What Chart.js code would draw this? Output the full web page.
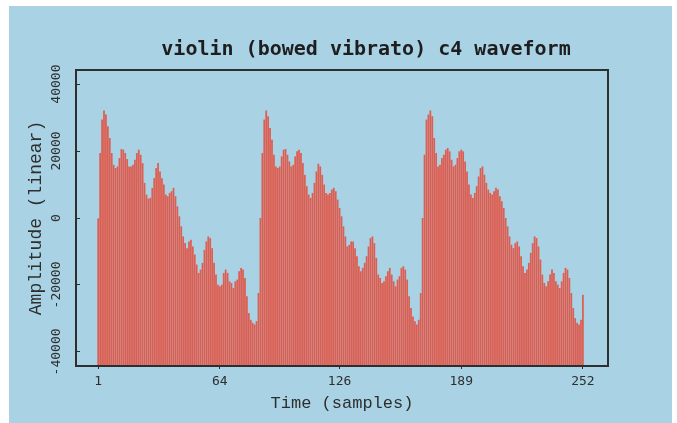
<!DOCTYPE html>
<html>
<head>
<meta charset="utf-8">
<title>violin (bowed vibrato) c4 waveform</title>
<script src="https://cdn.jsdelivr.net/npm/chart.js@4.4.1/dist/chart.umd.min.js"></script>
<style>
  html, body { margin: 0; padding: 0; background: #fff; }
  canvas { display: block; }
</style>
</head>
<body>
<canvas id="chart-waveform" width="677" height="423"></canvas>
<script>
// one pitch period per array, 84 samples each
var cycle1 = [
  -200, 19300, 29300, 32000, 30800, 27300, 23800, 19300, 15800, 14800,
  15300, 17800, 20500, 20300, 19300, 17500, 15300, 15300, 15800, 17300,
  19300, 20300, 18800, 16300, 10400, 6900, 5700, 5900, 8900, 11800,
  14800, 16300, 13800, 11800, 9900, 6900, 6400, 7400, 7900, 8900,
  6400, 3400, 400, -2600, -5600, -7600, -9100, -7100, -6600, -8600,
  -11000, -14000, -16500, -15500, -13500, -9600, -7100, -5600, -6100, -9100,
  -13500, -17000, -20000, -20500, -20000, -16500, -15500, -16500, -19000, -19500,
  -21000, -19000, -18500, -16000, -15000, -15500, -18000, -23500, -28500, -30500,
  -31400, -31900, -30900, -22500
];
var cycle2 = [
  -100, 19300, 29300, 32000, 30300, 26800, 23300, 18800, 15300, 14800,
  15300, 18300, 20300, 20500, 18800, 16800, 15300, 15800, 18300, 19800,
  20300, 19300, 16300, 12800, 9400, 6900, 5900, 7400, 10400, 13800,
  16100, 15300, 12800, 9900, 7400, 6900, 7400, 8400, 8900, 7900,
  5400, 2900, 400, -2600, -5600, -8600, -8100, -7100, -7100, -9100,
  -11500, -14500, -16000, -15000, -13500, -11500, -8600, -6100, -5600, -7600,
  -12000, -17000, -18000, -19500, -19000, -17500, -16000, -15000, -17000, -19000,
  -20500, -18500, -17500, -15000, -14500, -15500, -18500, -23500, -27000, -29500,
  -30900, -31900, -30500, -22500
];
var cycle3 = [
  -100, 18800, 29300, 30800, 32000, 30300, 23800, 19300, 15300, 15800,
  17800, 18800, 20300, 20800, 19800, 17300, 15300, 15800, 17800, 19800,
  20300, 19800, 16800, 13800, 9900, 6900, 5900, 7400, 9400, 12300,
  14800, 15300, 12800, 10400, 8400, 7400, 6900, 7900, 8900, 8400,
  6400, 4900, 2900, -100, -2600, -5600, -8100, -9100, -7600, -7100,
  -8600, -11500, -14500, -16500, -15500, -13500, -10500, -7600, -5600, -6100,
  -8600, -12500, -17000, -19500, -20500, -19000, -17000, -15500, -16500, -19000,
  -20000, -21000, -19000, -16500, -15000, -15500, -18000, -22500, -27000, -30000,
  -31400, -31900, -30500, -23000
];

var xTicks = [1, 64, 126, 189, 252];
var yTicks = [-40000, -20000, 0, 20000, 40000];
var yMin = -44200;
var yMax = 44200;

var amplitude = cycle1.concat(cycle2, cycle3);
var points = amplitude.map(function (v, i) { return { x: i + 1, y: v }; });

var monoFont = "'DejaVu Sans Mono', monospace";
var labelFont = "'Liberation Mono', 'Courier New', monospace";
var ink = '#2e2e2e';

var background = {
  id: 'background',
  beforeDraw: function (chart) {
    var ctx = chart.ctx;
    ctx.save();
    ctx.fillStyle = '#ffffff';
    ctx.fillRect(0, 0, chart.width, chart.height);
    ctx.fillStyle = '#a9d3e5';
    ctx.fillRect(9, 6, 663, chart.height - 6);
    ctx.restore();
  }
};

// box round the plot and the heading above it
var frame = {
  id: 'frame',
  afterDraw: function (chart) {
    var a = chart.chartArea;
    var ctx = chart.ctx;
    ctx.save();
    ctx.strokeStyle = ink;
    ctx.lineWidth = 2;
    ctx.strokeRect(a.left, a.top, a.right - a.left, a.bottom - a.top);
    ctx.fillStyle = '#1e1e1e';
    ctx.font = 'bold 20px ' + monoFont;
    ctx.textAlign = 'center';
    ctx.textBaseline = 'alphabetic';
    ctx.fillText('violin (bowed vibrato) c4 waveform', 366, 55);
    ctx.restore();
  }
};

var ctx = document.getElementById('chart-waveform');
new Chart(ctx, {
  type: 'bar',
  data: {
    datasets: [{
      data: points,
      backgroundColor: '#dd5e51',
      borderWidth: 0,
      barThickness: 1.1,
      base: yMin
    }]
  },
  options: {
    responsive: false,
    animation: false,
    layout: { padding: { top: 70, right: 69, left: 0, bottom: 0 } },
    plugins: {
      legend: { display: false },
      tooltip: { enabled: false }
    },
    scales: {
      x: {
        type: 'linear',
        offset: false,
        min: -10.5,
        max: 265,
        afterFit: function (s) { s.height = 57; },
        afterBuildTicks: function (s) {
          s.ticks = xTicks.map(function (v) { return { value: v }; });
        },
        border: { display: false },
        grid: { drawOnChartArea: false, offset: false, tickLength: 3, color: ink },
        ticks: {
          padding: 5,
          color: ink,
          autoSkip: false,
          maxRotation: 0,
          font: { family: monoFont, size: 13 },
          callback: function (v) { return String(v); }
        },
        title: {
          display: true,
          text: 'Time (samples)',
          color: ink,
          font: { family: labelFont, size: 17 },
          padding: { top: 0, bottom: 9 }
        }
      },
      y: {
        min: yMin,
        max: yMax,
        afterFit: function (s) { s.width = 76; },
        afterBuildTicks: function (s) {
          s.ticks = yTicks.map(function (v) { return { value: v }; });
        },
        border: { display: false },
        grid: { drawOnChartArea: false, tickLength: -4, color: ink },
        ticks: {
          padding: 0,
          color: ink,
          autoSkip: false,
          minRotation: 90,
          maxRotation: 90,
          crossAlign: 'center',
          font: { family: monoFont, size: 13 },
          callback: function (v) { return String(v); }
        },
        title: {
          display: true,
          text: 'Amplitude (linear)',
          color: ink,
          font: { family: labelFont, size: 18 },
          padding: { top: 25, bottom: 0 }
        }
      }
    }
  },
  plugins: [background, frame]
});
</script>
</body>
</html>
